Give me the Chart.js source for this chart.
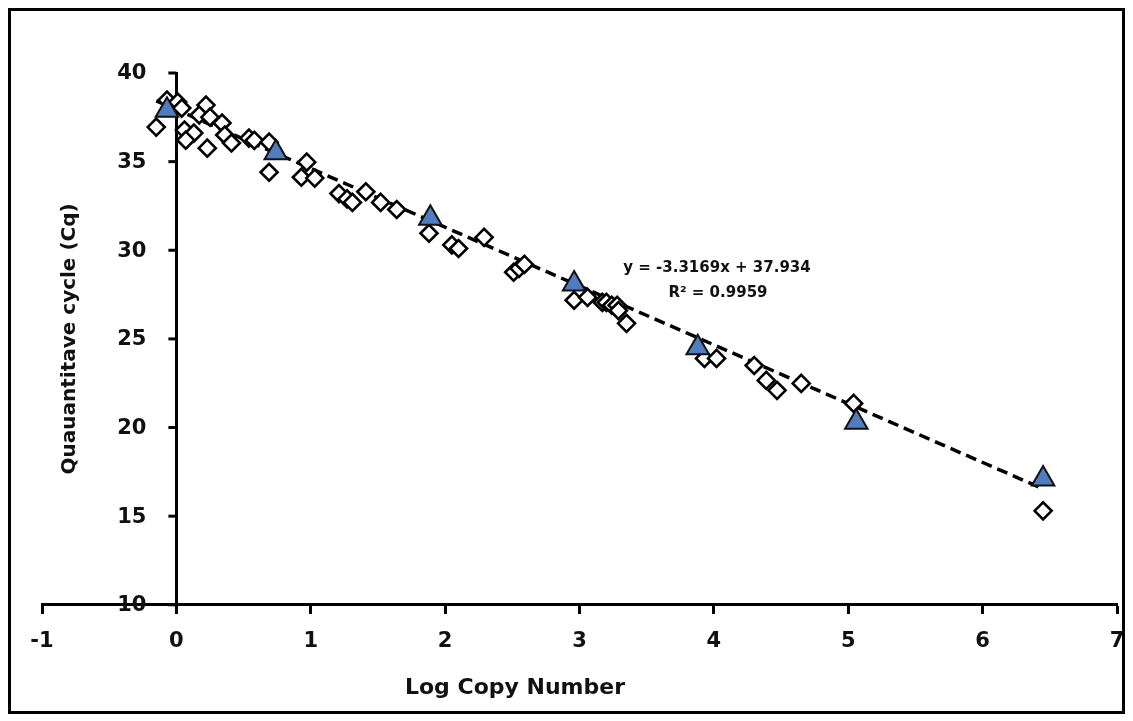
<!DOCTYPE html>
<html>
<head>
<meta charset="utf-8">
<title>Standard curve</title>
<script src="https://cdn.jsdelivr.net/npm/chart.js@4.4.1/dist/chart.umd.min.js"></script>
<style>
  html, body { margin: 0; padding: 0; background: #fff; }
  #chart-container { width: 1133px; height: 721px; }
</style>
</head>
<body>
<div id="chart-container"><canvas id="mycanvas" width="1133" height="721"></canvas></div>
<script>
// standards (triangles)
var std_x = [-0.07, 0.74, 1.89, 2.96, 3.88, 5.06, 6.45];
var std_y = [37.9, 35.5, 31.8, 28.1, 24.5, 20.3, 17.1];

// samples (diamonds)
var smp_x = [-0.07, 0.01, 0.04, -0.15, 0.06, 0.13, 0.07, 0.22, 0.17, 0.25, 0.34, 0.36, 0.41, 0.23,
             0.54, 0.58, 0.69, 0.69, 0.97, 0.93, 1.03,
             1.21, 1.27, 1.31, 1.41, 1.52, 1.64, 1.88, 2.05, 2.10, 2.29, 2.51, 2.55, 2.59,
             2.96, 3.06, 3.17, 3.20, 3.24, 3.28, 3.29, 3.35,
             3.93, 4.02, 4.30, 4.39, 4.47, 4.65, 5.04, 6.45];
var smp_y = [38.47, 38.36, 38.02, 36.95, 36.78, 36.61, 36.21, 38.19, 37.63, 37.51, 37.18, 36.50, 36.05, 35.76,
             36.33, 36.2, 36.1, 34.4, 34.97, 34.12, 34.07,
             33.2, 32.9, 32.7, 33.3, 32.7, 32.3, 30.96, 30.3, 30.1, 30.73, 28.76, 28.98, 29.2,
             27.18, 27.34, 27.06, 27.06, 26.9, 26.9, 26.6, 25.88,
             23.9, 23.9, 23.5, 22.66, 22.1, 22.49, 21.36, 15.3];

// linear trend line end points
var trend_x = [-0.15, 6.45];
var trend_y = [38.43, 16.54];

var x_ticks = { min: -1, max: 7, step: 1 };
var y_ticks = { min: 10, max: 40, step: 5 };

var eq_label = 'y = -3.3169x + 37.934';
var r2_label = 'R\u00B2 = 0.9959';
var x_title = 'Log Copy Number';
var y_title = 'Quauantitave cycle (Cq)';

var FONT = "'DejaVu Sans', Verdana, sans-serif";

var toPoints = function(xs, ys) {
    var out = [];
    for (var i = 0; i < xs.length; i++) {
        out.push({ x: xs[i], y: ys[i] });
    }
    return out;
};

// frame, titles, y tick labels (axis sits at x=0) and equation text
var extras = {
    id: 'extras',
    beforeDraw: function(chart) {
        var ctx = chart.ctx;
        ctx.save();
        ctx.fillStyle = '#fff';
        ctx.fillRect(0, 0, chart.width, chart.height);
        ctx.restore();
    },
    afterDraw: function(chart) {
        var ctx = chart.ctx;
        var area = chart.chartArea;
        var xs = chart.scales.x;
        var ys = chart.scales.y;
        var x0 = xs.getPixelForValue(0);

        ctx.save();
        ctx.strokeStyle = '#000';
        ctx.lineWidth = 3;
        ctx.strokeRect(9.5, 9.5, 1114, 703);

        // y ticks, outside (left of) the axis line
        ctx.lineWidth = 3;
        ctx.fillStyle = '#111';
        ctx.font = 'bold 21px ' + FONT;
        ctx.textAlign = 'right';
        ctx.textBaseline = 'middle';
        ys.ticks.forEach(function(t) {
            var py = ys.getPixelForValue(t.value);
            ctx.beginPath();
            ctx.moveTo(x0 - 8, py);
            ctx.lineTo(x0, py);
            ctx.stroke();
            ctx.fillText(t.label, x0 - 30, py + 1);
        });

        // x title
        ctx.textAlign = 'center';
        ctx.font = 'bold 22px ' + FONT;
        ctx.fillText(x_title, 515, 688);

        // y title
        ctx.font = 'bold 20px ' + FONT;
        ctx.translate(area.left + 28, (area.top + area.bottom) / 2);
        ctx.rotate(-Math.PI / 2);
        ctx.fillText(y_title, 0, 0);
        ctx.restore();

        ctx.save();
        ctx.fillStyle = '#111';
        ctx.font = 'bold 15px ' + FONT;
        ctx.textAlign = 'center';
        ctx.textBaseline = 'middle';
        ctx.fillText(eq_label, 717, 268);
        ctx.fillText(r2_label, 718, 293);
        ctx.restore();
    }
};

var ctx = document.getElementById('mycanvas');

var chart = new Chart(ctx, {
    type: 'scatter',
    data: {
        datasets: [
            {
                label: 'Standards',
                data: toPoints(std_x, std_y),
                pointStyle: 'triangle',
                pointRadius: 13,
                pointBackgroundColor: '#4F7DC0',
                pointBorderColor: '#111',
                pointBorderWidth: 2,
                order: 0
            },
            {
                label: 'Samples',
                data: toPoints(smp_x, smp_y),
                pointStyle: 'rectRot',
                pointRadius: 8.5,
                pointBackgroundColor: '#fff',
                pointBorderColor: '#000',
                pointBorderWidth: 2.6,
                order: 1
            },
            {
                label: 'Linear',
                type: 'line',
                data: toPoints(trend_x, trend_y),
                borderColor: '#000',
                borderWidth: 3.5,
                borderDash: [11, 6],
                pointRadius: 0,
                fill: false,
                order: 2
            }
        ]
    },
    options: {
        responsive: false,
        animation: false,
        layout: {
            padding: { left: 42, right: 16, top: 73, bottom: 59 }
        },
        plugins: {
            legend: { display: false },
            tooltip: { enabled: false }
        },
        scales: {
            x: {
                type: 'linear',
                position: 'bottom',
                min: x_ticks.min,
                max: x_ticks.max,
                ticks: {
                    stepSize: x_ticks.step,
                    color: '#111',
                    padding: 8,
                    font: { family: FONT, size: 21, weight: 'bold' }
                },
                grid: {
                    drawOnChartArea: false,
                    drawTicks: true,
                    tickLength: 16,
                    tickWidth: 3,
                    tickColor: '#000',
                    tickBorderDash: [8, 40]
                },
                border: { color: '#000', width: 3 }
            },
            y: {
                type: 'linear',
                position: { x: 0 },
                min: y_ticks.min,
                max: y_ticks.max,
                ticks: {
                    stepSize: y_ticks.step,
                    display: false
                },
                grid: {
                    drawOnChartArea: false,
                    drawTicks: false
                },
                border: { color: '#000', width: 3 }
            }
        }
    },
    plugins: [extras]
});
</script>
</body>
</html>
